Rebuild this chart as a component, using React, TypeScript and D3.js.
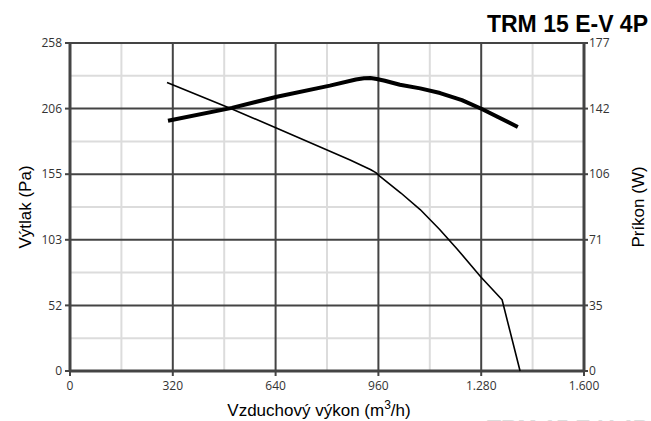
import React from "react";
import * as d3 from "d3";

const W = 651;
const H = 421;

const titleText = "TRM 15 E-V 4P";
const xTitle = "Vzduchový výkon (m";
const yLeftTitle = "Výtlak (Pa)";
const yRightTitle = "Príkon (W)";

const xTicks = [0, 320, 640, 960, 1280, 1600];
const xTickLabels = ["0", "320", "640", "960", "1.280", "1.600"];
const leftMax = 258;
const leftTickLabels = ["0", "52", "103", "155", "206", "258"];
const rightMax = 177;
const rightTickLabels = ["0", "35", "71", "106", "142", "177"];

// Pressure curve (Pa) vs airflow (m3/h)
const pressureFlow = [302, 504, 644, 872, 910, 935, 952, 965, 1030, 1090, 1150, 1205, 1279, 1345, 1401];
const pressureVal = [227, 206, 191, 166, 161.5, 158.5, 156, 153, 140, 127, 111.5, 96, 74, 56, 0];

// Power curve (W) vs airflow (m3/h)
const powerFlow = [305, 504, 644, 809, 890, 915, 935, 955, 980, 1027, 1090, 1152, 1220, 1282, 1394];
const powerVal = [135, 142, 148, 154, 157.3, 158, 158.1, 157.6, 156.6, 154.5, 152.5, 150, 146.2, 141.4, 131.7];

export default function App() {
  const left = 70, right = 584, top = 43, bottom = 371;
  const x = d3.scaleLinear().domain([0, 1600]).range([left, right]);
  const yL = d3.scaleLinear().domain([0, leftMax]).range([bottom, top]);
  const yR = d3.scaleLinear().domain([0, rightMax]).range([bottom, top]);

  const leftTicks = leftTickLabels.map((_, i) => (leftMax * i) / 5);
  const rightTicks = rightTickLabels.map((_, i) => (rightMax * i) / 5);
  const minorX = xTicks.slice(0, -1).map((t, i) => (t + xTicks[i + 1]) / 2);
  const minorY = leftTicks.slice(0, -1).map((t, i) => (t + leftTicks[i + 1]) / 2);

  const pLine = d3
    .line<number>()
    .x((_, i) => x(pressureFlow[i]))
    .y((d) => yL(d))
    .curve(d3.curveLinear);
  const wLine = d3
    .line<number>()
    .x((_, i) => x(powerFlow[i]))
    .y((d) => yR(d))
    .curve(d3.curveLinear);

  const dark = "#444";
  const light = "#dcdcdc";
  const tickFont = "'Open Sans', 'DejaVu Sans', sans-serif";
  const titleFont = "'Liberation Sans', Arial, sans-serif";

  return (
    <div style={{ position: "absolute", left: 0, top: 0 }}>
      <svg width={W} height={H} style={{ display: "block", background: "#fff" }}>
        {/* minor grid */}
        {minorX.map((t) => (
          <line key={"mx" + t} x1={x(t)} x2={x(t)} y1={top} y2={bottom} stroke={light} strokeWidth={2} />
        ))}
        {minorY.map((t) => (
          <line key={"my" + t} x1={left} x2={right} y1={yL(t)} y2={yL(t)} stroke={light} strokeWidth={2} />
        ))}
        {/* major grid */}
        {xTicks.map((t) => (
          <line key={"gx" + t} x1={x(t)} x2={x(t)} y1={top} y2={bottom} stroke={dark} strokeWidth={2} />
        ))}
        {leftTicks.map((t) => (
          <line key={"gy" + t} x1={left} x2={right} y1={yL(t)} y2={yL(t)} stroke={dark} strokeWidth={2} />
        ))}
        {/* axes frame */}
        <line x1={left} x2={left} y1={top - 1} y2={bottom + 1} stroke={dark} strokeWidth={3} />
        <line x1={right} x2={right} y1={top - 1} y2={bottom + 1} stroke={dark} strokeWidth={3} />
        <line x1={left - 1} x2={right + 1} y1={bottom} y2={bottom} stroke={dark} strokeWidth={3} />
        <line x1={left - 1} x2={right + 1} y1={top} y2={top} stroke={dark} strokeWidth={2} />

        {/* left ticks */}
        {leftTicks.map((t, i) => (
          <g key={"lt" + i}>
            <line x1={left - 5} x2={left} y1={yL(t)} y2={yL(t)} stroke={dark} strokeWidth={2} />
            <text x={left - 8} y={yL(t)} dy="0.35em" textAnchor="end" fontFamily={tickFont} fontSize={12} fill="#333">
              {leftTickLabels[i]}
            </text>
          </g>
        ))}
        {/* right ticks */}
        {rightTicks.map((t, i) => (
          <g key={"rt" + i}>
            <line x1={right} x2={right + 4} y1={yR(t)} y2={yR(t)} stroke={dark} strokeWidth={2} />
            <text x={right + 5} y={yR(t)} dy="0.35em" textAnchor="start" fontFamily={tickFont} fontSize={12} fill="#333">
              {rightTickLabels[i]}
            </text>
          </g>
        ))}
        {/* bottom ticks */}
        {xTicks.map((t, i) => (
          <g key={"bt" + i}>
            <line x1={x(t)} x2={x(t)} y1={bottom} y2={bottom + 5} stroke={dark} strokeWidth={2} />
            <text x={x(t)} y={bottom + 19} textAnchor="middle" fontFamily={tickFont} fontSize={12} fill="#333">
              {xTickLabels[i]}
            </text>
          </g>
        ))}

        {/* curves */}
        <path d={pLine(pressureVal) || ""} fill="none" stroke="#000" strokeWidth={1.6} strokeLinejoin="round" />
        <path d={wLine(powerVal) || ""} fill="none" stroke="#000" strokeWidth={4} strokeLinejoin="round" />

        {/* titles */}
        <text x={648} y={32} textAnchor="end" fontFamily={titleFont} fontWeight="bold" fontSize={23} fill="#000">
          {titleText}
        </text>
        <text x={648} y={437} textAnchor="end" fontFamily={titleFont} fontWeight="bold" fontSize={23} fill="#dcdcdc">
          {titleText}
        </text>
        <text x={319} y={416} textAnchor="middle" fontFamily={titleFont} fontSize={17} fill="#000">
          {xTitle}
          <tspan dy={-7} fontSize={12}>3</tspan>
          <tspan dy={7}>/h)</tspan>
        </text>
        <text
          transform={`translate(31,${(top + bottom) / 2}) rotate(-90)`}
          textAnchor="middle"
          fontFamily={titleFont}
          fontSize={17}
          fill="#000"
        >
          {yLeftTitle}
        </text>
        <text
          transform={`translate(644,${(top + bottom) / 2}) rotate(-90)`}
          textAnchor="middle"
          fontFamily={titleFont}
          fontSize={17}
          fill="#000"
        >
          {yRightTitle}
        </text>
      </svg>
    </div>
  );
}
